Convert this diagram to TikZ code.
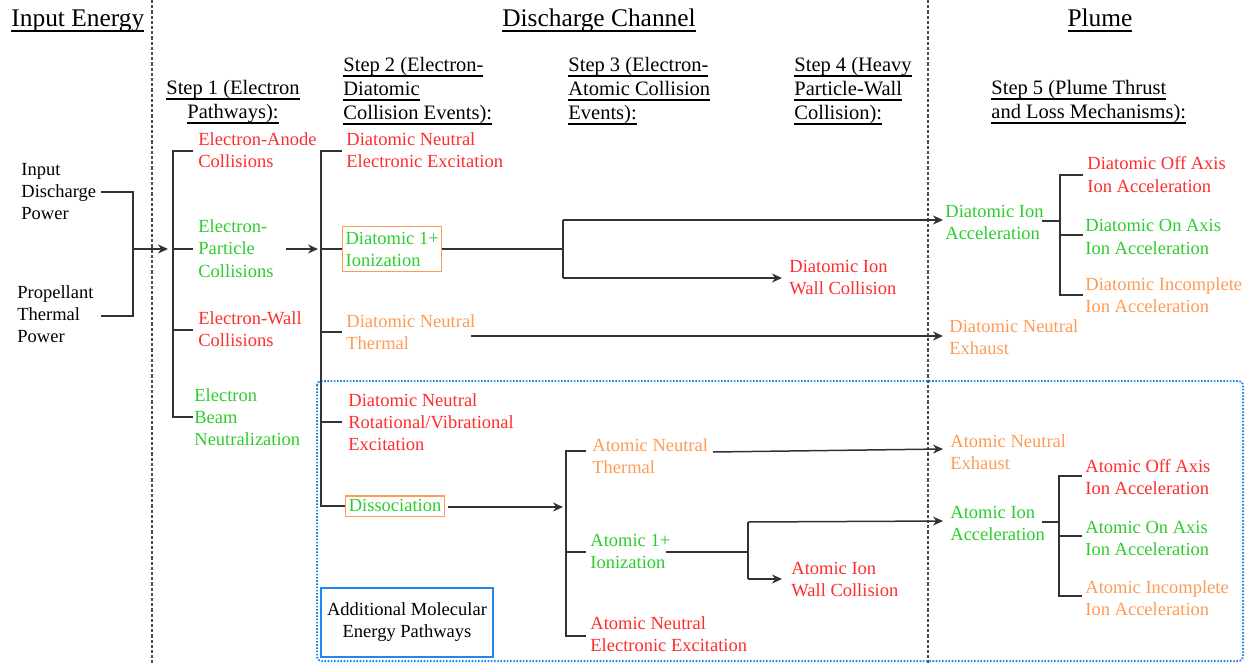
\documentclass[tikz,border=0pt]{standalone}
\usepackage{fontspec}
\setmainfont{Liberation Serif}
\usetikzlibrary{arrows.meta}
\newcommand\myul[2][0.7pt]{\leavevmode\setbox0=\hbox{#2}\rlap{\rule[-2.4pt]{\wd0}{#1}}\box0}
\definecolor{cred}{RGB}{255,45,45}
\definecolor{cgreen}{RGB}{45,205,45}
\definecolor{corange}{RGB}{255,155,85}
\definecolor{cblue}{RGB}{35,135,235}
\definecolor{cline}{RGB}{50,50,50}
\tikzset{
  txt/.style={font=\fontsize{9.25}{11}\selectfont, inner sep=0pt, align=left, anchor=base west},
  hdr/.style={font=\fontsize{10.25}{12}\selectfont, inner sep=0pt, align=left, anchor=base west},
  big/.style={font=\fontsize{12.7}{14}\selectfont, inner sep=0pt, anchor=base},
  conn/.style={line width=0.75pt, draw=cline},
  arr/.style={conn, -{Stealth[length=5pt,width=4.5pt]}},
  sepline/.style={line width=0.6pt, draw=black!70, dash pattern=on 1.6pt off 1pt},
  obox/.style={draw=corange, line width=0.6pt, text=cgreen, font=\fontsize{9.25}{11}\selectfont, align=left, anchor=west}
}
\begin{document}
\begin{tikzpicture}[x=0.5pt,y=-0.5pt]
\useasboundingbox (0,0) rectangle (1251,663);
% separators
\coordinate (s1t) at (152,0); \coordinate (s1b) at (152,663);
\coordinate (s2t) at (928,0); \coordinate (s2b) at (928,663);
\draw[sepline] (s1t) -- (s1b);
\draw[sepline] (s2t) -- (s2b);
% blue dotted region
\draw[cblue, line width=1pt, dash pattern=on 0.8pt off 0.8pt, rounded corners=2pt] (317,381) rectangle (1243,661);
\node[draw=cblue, line width=1.3pt, minimum width=86pt, minimum height=34.5pt, inner sep=0pt,
      font=\fontsize{9.25}{11}\selectfont, align=center] (addbox) at (407,622.5) {Additional Molecular\\Energy Pathways};

% top headings
\node[big, anchor=base west] (hIE) at (11,27) {\myul[1pt]{Input Energy}};
\node[big] (hDC) at (599,27) {\myul[1pt]{Discharge Channel}};
\node[big] (hPL) at (1100,27) {\myul[1pt]{Plume}};

% step headings (base = last line)
\node[hdr, align=center, anchor=base] (st1) at (233,119) {\myul{Step 1 (Electron}\\\myul{Pathways):}};
\node[hdr] (st2) at (343,120) {\myul{Step 2 (Electron-}\\\myul{Diatomic}\\\myul{Collision Events):}};
\node[hdr] (st3) at (568,120) {\myul{Step 3 (Electron-}\\\myul{Atomic Collision}\\\myul{Events):}};
\node[hdr] (st4) at (794,120) {\myul{Step 4 (Heavy}\\\myul{Particle-Wall}\\\myul{Collision):}};
\node[hdr] (st5) at (991,119) {\myul{Step 5 (Plume Thrust}\\\myul{and Loss Mechanisms):}};

% input energy
\node[txt] (in1) at (21,220) {Input\\Discharge\\Power};
\node[txt] (in2) at (17,342) {Propellant\\Thermal\\Power};
\coordinate (i1) at (101,192); \coordinate (i2) at (101,316);
\coordinate (ib1) at (133,192); \coordinate (ib2) at (133,316); \coordinate (ibm) at (133,249);
\coordinate (b1m) at (168,249);
\draw[conn] (i1) -- (ib1) -- (ib2) -- (i2);
\draw[arr] (ibm) -- (b1m);

% step 1
\node[txt, text=cred] (e1) at (198,168) {Electron-Anode\\Collisions};
\node[txt, text=cgreen] (e2) at (198,277) {Electron-\\Particle\\Collisions};
\node[txt, text=cred] (e3) at (198,346) {Electron-Wall\\Collisions};
\node[txt, text=cgreen] (e4) at (194,445) {Electron\\Beam\\Neutralization};
\coordinate (b1t) at (173,151); \coordinate (b1b) at (173,417);
\draw[conn] (193,151) -- (b1t) -- (b1b) -- (193,417);
\draw[conn] (173,249) -- (193,249);
\draw[conn] (173,330) -- (193,330);
\coordinate (e2o) at (286,249); \coordinate (b2m) at (318,249);
\draw[arr] (e2o) -- (b2m);

% step 2
\node[txt, text=cred] (d1) at (346,168) {Diatomic Neutral\\Electronic Excitation};
\node[obox, inner xsep=1.5pt, inner ysep=2.8pt] (d2) at (342,249) {Diatomic 1+\\Ionization};
\node[txt, text=corange] (d3) at (346,349) {Diatomic Neutral\\Thermal};
\node[txt, text=cred] (d4) at (348,450) {Diatomic Neutral\\Rotational/Vibrational\\Excitation};
\node[obox, inner xsep=1.6pt, inner ysep=0.8pt, text height=7pt, text depth=1.5pt] (d5) at (345,506) {Dissociation};
\coordinate (b2t) at (321,151); \coordinate (b2b) at (321,506);
\draw[conn] (342,151) -- (b2t) -- (b2b) -- (d5.west);
\draw[conn] (321,249) -- (d2.west);
\draw[conn] (321,332) -- (342,332);
\draw[conn] (321,422) -- (342,422);

% diatomic ionization branch
\coordinate (j1) at (563,249); \coordinate (j1t) at (563,220); \coordinate (j1b) at (563,278);
\node[txt, text=cred] (w1) at (789,294) {Diatomic Ion\\Wall Collision};
\node[txt, text=cgreen] (p1) at (945,240) {Diatomic Ion\\Acceleration};
\draw[conn] (d2.east) -- (j1);
\draw[conn] (j1t) -- (j1b);
\draw[arr] (j1t) -- (943,220);
\draw[arr] (j1b) -- (782,278);
% diatomic thermal
\node[txt, text=corange] (p2) at (949,354) {Diatomic Neutral\\Exhaust};
\draw[arr] (471,336) -- (943,336);

% dissociation -> step 3
\coordinate (b3m) at (563,507);
\draw[arr] ([xshift=1.5pt]d5.east |- b3m) -- (b3m);
\node[txt, text=corange] (a1) at (592,473) {Atomic Neutral\\Thermal};
\node[txt, text=cgreen] (a2) at (590,568) {Atomic 1+\\Ionization};
\node[txt, text=cred] (a3) at (590,651) {Atomic Neutral\\Electronic Excitation};
\coordinate (b3t) at (566,451); \coordinate (b3b) at (566,636);
\draw[conn] (586,451) -- (b3t) -- (b3b) -- (586,636);
\draw[conn] (566,552) -- (586,552);
% atomic thermal -> exhaust
\node[txt, text=corange] (p3) at (950,469) {Atomic Neutral\\Exhaust};
\draw[arr] (713,452) -- (943,449);
% atomic ionization branch
\node[txt, text=cred] (w2) at (791,596) {Atomic Ion\\Wall Collision};
\node[txt, text=cgreen] (p4) at (950,540) {Atomic Ion\\Acceleration};
\coordinate (j2) at (748,552); \coordinate (j2t) at (748,522); \coordinate (j2b) at (748,579);
\draw[conn] (666,552) -- (j2);
\draw[conn] (j2t) -- (j2b);
\draw[arr] (j2t) -- (943,521);
\draw[arr] (j2b) -- (782,579);

% plume diatomic
\node[txt, text=cred] (p11) at (1087,192) {Diatomic Off Axis\\Ion Acceleration};
\node[txt, text=cgreen] (p12) at (1085,254) {Diatomic On Axis\\Ion Acceleration};
\node[txt, text=corange] (p13) at (1085,312) {Diatomic Incomplete\\Ion Acceleration};
\coordinate (k1) at (1060,221);
\draw[conn] (1042,221) -- (k1);
\draw[conn] (1083,175) -- (1060,175) -- (1060,295) -- (1083,295);
\draw[conn] (1060,235) -- (1083,235);
% plume atomic
\node[txt, text=cred] (p41) at (1085,494) {Atomic Off Axis\\Ion Acceleration};
\node[txt, text=cgreen] (p42) at (1085,555) {Atomic On Axis\\Ion Acceleration};
\node[txt, text=corange] (p43) at (1085,615) {Atomic Incomplete\\Ion Acceleration};
\coordinate (k2) at (1059,522);
\draw[conn] (1042,522) -- (k2);
\draw[conn] (1082,476) -- (1059,476) -- (1059,596) -- (1082,596);
\draw[conn] (1059,536) -- (1082,536);
\end{tikzpicture}
\end{document}
